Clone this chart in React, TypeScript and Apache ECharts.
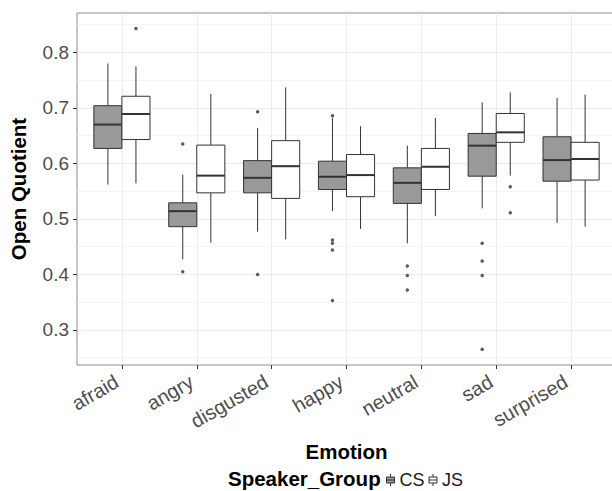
import React, { useEffect, useRef } from "react";
import * as echarts from "echarts";

const categories = ["afraid", "angry", "disgusted", "happy", "neutral", "sad", "surprised"];
const groups = ["CS", "JS"];

// [min, Q1, median, Q3, max]
const csBoxes = [
  [0.562, 0.627, 0.670, 0.704, 0.780],
  [0.427, 0.486, 0.514, 0.529, 0.580],
  [0.477, 0.547, 0.574, 0.605, 0.664],
  [0.514, 0.553, 0.576, 0.604, 0.682],
  [0.456, 0.528, 0.565, 0.592, 0.632],
  [0.519, 0.577, 0.632, 0.654, 0.710],
  [0.493, 0.568, 0.606, 0.648, 0.718],
];
const jsBoxes = [
  [0.564, 0.643, 0.689, 0.721, 0.775],
  [0.457, 0.547, 0.578, 0.633, 0.725],
  [0.463, 0.537, 0.595, 0.641, 0.737],
  [0.482, 0.540, 0.579, 0.616, 0.667],
  [0.505, 0.553, 0.594, 0.627, 0.682],
  [0.578, 0.638, 0.656, 0.690, 0.728],
  [0.486, 0.570, 0.608, 0.638, 0.724],
];
// [category index, value]
const csOutliers = [
  [1, 0.635], [1, 0.405],
  [2, 0.693], [2, 0.400],
  [3, 0.686], [3, 0.462], [3, 0.456], [3, 0.444], [3, 0.353],
  [4, 0.415], [4, 0.398], [4, 0.372],
  [5, 0.456], [5, 0.424], [5, 0.398], [5, 0.265],
];
const jsOutliers = [
  [0, 0.843],
  [5, 0.558], [5, 0.511],
];

const yMajorTicks = [0.3, 0.4, 0.5, 0.6, 0.7, 0.8];
const yMinorTicks = [0.25, 0.35, 0.45, 0.55, 0.65, 0.75, 0.85];
const yMin = 0.2368;
const yMax = 0.871;
const xTicks = categories.map((_, i) => i + 1);

const DODGE = 0.1875;
const BOX_FRAC = 0.375;
const FONT = "'Liberation Sans', Arial, Helvetica, sans-serif";

const fills = ["#999999", "#ffffff"];
const STROKE = "#333333";

const glyph = "path://M4,0L4,3M0,3L8,3L8,9L0,9ZM0,6L8,6M4,9L4,12";

function boxSeries(name: string, boxes: number[][], offset: number, fill: string) {
  return {
    name,
    type: "custom",
    xAxisIndex: 0,
    yAxisIndex: 0,
    z: 3,
    itemStyle: { color: fill, borderColor: STROKE },
    encode: { x: 0, y: [1, 2, 3, 4, 5] },
    data: boxes.map((b, i) => [i + 1 + offset, ...b]),
    renderItem: (params: any, api: any) => {
      const x = api.value(0);
      const vals = [1, 2, 3, 4, 5].map((d) => api.value(d));
      const pts = vals.map((v) => api.coord([x, v]));
      const cx = pts[0][0];
      const w = api.size([1, 0])[0] * BOX_FRAC;
      const yMinP = pts[0][1], yQ1 = pts[1][1], yMed = pts[2][1], yQ3 = pts[3][1], yMaxP = pts[4][1];
      return {
        type: "group",
        children: [
          { type: "line", shape: { x1: cx, y1: yQ3, x2: cx, y2: yMaxP }, style: { stroke: STROKE, lineWidth: 1 } },
          { type: "line", shape: { x1: cx, y1: yQ1, x2: cx, y2: yMinP }, style: { stroke: STROKE, lineWidth: 1 } },
          { type: "rect", shape: { x: cx - w / 2, y: yQ3, width: w, height: yQ1 - yQ3 }, style: { fill, stroke: STROKE, lineWidth: 1 } },
          { type: "line", shape: { x1: cx - w / 2, y1: yMed, x2: cx + w / 2, y2: yMed }, style: { stroke: STROKE, lineWidth: 2 } },
        ],
      };
    },
  };
}

function outlierSeries(name: string, pts: number[][], offset: number) {
  return {
    name,
    type: "scatter",
    z: 4,
    symbol: "circle",
    symbolSize: 3.5,
    itemStyle: { color: STROKE },
    data: pts.map((p) => [p[0] + 1 + offset, p[1]]),
  };
}

export default function App() {
  const ref = useRef<HTMLDivElement>(null);
  useEffect(() => {
    if (!ref.current) return;
    const chart = echarts.init(ref.current, undefined, { renderer: "svg" });
    chart.setOption({
      animation: false,
      backgroundColor: "#ffffff",
      textStyle: { fontFamily: FONT },
      grid: {
        left: 77,
        top: 13,
        width: 539,
        height: 352,
        show: true,
        borderColor: "#8c8c8c",
        borderWidth: 1,
        backgroundColor: "transparent",
        containLabel: false,
        outerBoundsMode: "none",
      },
      xAxis: {
        type: "value",
        min: 0.4,
        max: 7.6,
        name: "Emotion",
        nameLocation: "middle",
        nameGap: 76,
        nameTextStyle: { fontFamily: FONT, fontSize: 20.5, fontWeight: "bold", color: "#000" },
        axisLine: { show: false },
        axisTick: { show: true, length: 4, customValues: xTicks, lineStyle: { color: "#333333" } },
        axisLabel: {
          customValues: xTicks,
          rotate: 30,
          margin: 12,
          padding: [0, 6, 0, 0],
          fontSize: 20,
          fontFamily: FONT,
          color: "#4d4d4d",
          formatter: (v: number) => categories[Math.round(v) - 1] ?? "",
        },
        splitLine: { show: true, lineStyle: { color: "#ebebeb", width: 1 } },
      },
      yAxis: [
        {
          type: "value",
          min: yMin,
          max: yMax,
          name: "Open Quotient",
          nameLocation: "middle",
          nameGap: 48,
          nameTextStyle: { fontFamily: FONT, fontSize: 20.5, fontWeight: "bold", color: "#000" },
          axisLine: { show: false },
          axisTick: { show: true, length: 4, customValues: yMajorTicks, lineStyle: { color: "#333333" } },
          axisLabel: {
            customValues: yMajorTicks,
            margin: 8,
            fontSize: 19,
            fontFamily: FONT,
            color: "#4d4d4d",
            formatter: (v: number) => v.toFixed(1),
          },
          splitLine: { show: true, lineStyle: { color: "#ebebeb", width: 1 } },
        },
        {
          type: "value",
          min: yMin,
          max: yMax,
          position: "left",
          axisLine: { show: false },
          axisTick: { show: true, length: 0, customValues: yMinorTicks, lineStyle: { color: "transparent" } },
          axisLabel: { show: false },
          splitLine: { show: true, lineStyle: { color: "#f4f4f4", width: 1 } },
        },
      ],
      legend: {
        data: [
          { name: groups[0], icon: glyph, itemStyle: { color: fills[0], borderColor: STROKE, borderWidth: 1 } },
          { name: groups[1], icon: glyph, itemStyle: { color: fills[1], borderColor: STROKE, borderWidth: 1 } },
        ],
        left: 386,
        top: 471,
        itemWidth: 8,
        itemHeight: 12,
        itemGap: 4,
        padding: 0,
        textStyle: { fontFamily: FONT, fontSize: 18, color: "#1a1a1a" },
        selectedMode: false,
      },
      graphic: [
        {
          type: "text",
          left: 228,
          top: 468,
          style: { text: "Speaker_Group", font: `bold 20.5px ${FONT}`, fill: "#000" },
        },
      ],
      series: [
        boxSeries(groups[0], csBoxes, -DODGE, fills[0]),
        boxSeries(groups[1], jsBoxes, DODGE, fills[1]),
        outlierSeries("CS outliers", csOutliers, -DODGE),
        outlierSeries("JS outliers", jsOutliers, DODGE),
      ],
    });
    return () => chart.dispose();
  }, []);
  return (
    <div
      ref={ref}
      style={{ position: "absolute", left: 0, top: 0, width: 612, height: 491 }}
    />
  );
}
